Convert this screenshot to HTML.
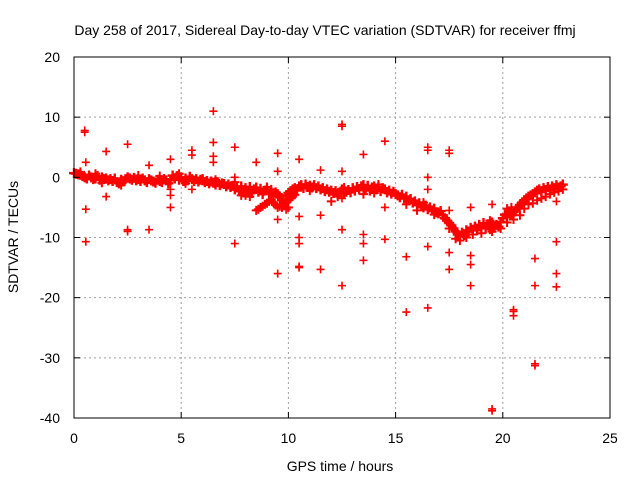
<!DOCTYPE html>
<html><head><meta charset="utf-8"><style>
body{margin:0;background:#fff;}
svg{display:block;font-family:"Liberation Sans",sans-serif;}
</style></head><body>
<svg id="chart" width="640" height="480" viewBox="0 0 640 480">
<rect width="640" height="480" fill="#fff"/>
<g id="grid"></g>
<g id="pts"></g>
<rect x="74" y="57" width="536" height="361" fill="none" stroke="#000" stroke-width="1"/>
<g id="ticks"></g>
<text x="325" y="35" font-size="14" text-anchor="middle">Day 258 of 2017, Sidereal Day-to-day VTEC variation (SDTVAR) for receiver ffmj</text>
<text x="340" y="471" font-size="14" text-anchor="middle">GPS time / hours</text>
<text x="0" y="0" font-size="14" text-anchor="middle" transform="translate(18,237) rotate(-90)">SDTVAR / TECUs</text>
</svg>
<script>
const xTicks=[0,5,10,15,20,25];
const yTicks=[20,10,0,-10,-20,-30,-40];
const trend=[[0,0.7],[0.1,0.6],[0.2,0.5],[0.3,0.4],[0.4,0.2],[0.5,0],[0.6,-0.2],[0.7,0.3],[0.8,0],[0.9,-0.3],[1,-0.2],[1.1,0.2],[1.2,-0.4],[1.3,0],[1.4,-0.3],[1.5,-0.2],[1.6,-0.5],[1.7,-0.3],[1.8,-0.6],[1.9,-0.2],[2,-0.8],[2.1,-1],[2.2,-0.4],[2.3,-0.7],[2.4,-0.3],[2.5,0],[2.6,-0.2],[2.7,-0.4],[2.8,-0.1],[2.9,-0.5],[3,-0.3],[3.1,-0.6],[3.2,-0.2],[3.3,-0.5],[3.4,-0.8],[3.5,-0.3],[3.6,-0.5],[3.7,-0.7],[3.8,-0.9],[3.9,-0.4],[4,-0.6],[4.1,-0.8],[4.2,-0.3],[4.3,-0.5],[4.4,-1],[4.5,-0.5],[4.6,0.3],[4.7,-0.2],[4.8,0.2],[4.9,-0.4],[5,0],[5.1,-0.6],[5.2,-0.2],[5.3,-0.5],[5.4,0.1],[5.5,-0.3],[5.6,-0.6],[5.7,-0.3],[5.8,-0.7],[5.9,-0.4],[6,-0.5],[6.1,-0.8],[6.2,-0.6],[6.3,-1],[6.4,-0.7],[6.5,-0.9],[6.6,-1.2],[6.7,-0.8],[6.8,-1.3],[6.9,-1],[7,-1.1],[7.1,-1.5],[7.2,-1.2],[7.3,-1.6],[7.4,-1.4],[7.5,-2],[7.6,-1.7],[7.7,-2.3],[7.8,-1.5],[7.9,-2.5],[8,-1.8],[8.1,-2.2],[8.2,-1.6],[8.3,-2.6],[8.4,-2],[8.5,-1.7],[8.6,-2.4],[8.7,-1.9],[8.8,-2.8],[8.9,-2.2],[9,-2],[9.1,-2.7],[9.2,-2.4],[9.3,-3],[9.4,-2.5],[9.5,-2.8],[9.6,-3.3],[9.7,-3.8],[9.8,-4.3],[9.9,-3],[10,-2.6],[10.1,-2.3],[10.2,-2],[10.3,-1.8],[10.4,-2.2],[10.5,-1.5],[10.6,-1.3],[10.7,-1.8],[10.8,-1.2],[10.9,-1.6],[11,-1.4],[11.1,-1.7],[11.2,-1.3],[11.3,-1.8],[11.4,-1.5],[11.5,-2],[11.6,-1.8],[11.7,-2.3],[11.8,-2],[11.9,-2.4],[12,-2.2],[12.1,-2.6],[12.2,-2.3],[12.3,-2.8],[12.4,-2.5],[12.5,-2],[12.6,-2.7],[12.7,-2.4],[12.8,-2.1],[12.9,-2.5],[13,-1.8],[13.1,-2.2],[13.2,-1.6],[13.3,-2],[13.4,-1.5],[13.5,-1.3],[13.6,-1.9],[13.7,-1.4],[13.8,-2.2],[13.9,-1.7],[14,-1.5],[14.1,-2],[14.2,-1.6],[14.3,-2.3],[14.4,-1.8],[14.5,-2],[14.6,-2.5],[14.7,-2.2],[14.8,-2.7],[14.9,-2.4],[15,-2.8],[15.1,-3],[15.2,-3.3],[15.3,-2.9],[15.4,-3.5],[15.5,-3.2],[15.6,-3.8],[15.7,-3.6],[15.8,-4.2],[15.9,-4],[16,-4.5],[16.1,-4.3],[16.2,-4.8],[16.3,-5],[16.4,-4.7],[16.5,-5.3],[16.6,-5],[16.7,-5.5],[16.8,-5.2],[16.9,-5.8],[17,-6],[17.1,-5.6],[17.2,-6.3],[17.3,-6.8],[17.4,-7.2],[17.5,-7.6],[17.6,-8],[17.7,-8.5],[17.8,-9],[17.9,-9.5],[18,-9.8],[18.1,-9.2],[18.2,-9.6],[18.3,-8.8],[18.4,-9],[18.5,-8.4],[18.6,-8.7],[18.7,-8.2],[18.8,-8.8],[18.9,-7.9],[19,-8.3],[19.1,-7.6],[19.2,-8.5],[19.3,-7.8],[19.4,-8.6],[19.5,-7.5],[19.6,-8.4],[19.7,-7.9],[19.8,-8.2],[19.9,-7.4],[20,-6.8],[20.1,-6.2],[20.2,-6.5],[20.3,-6],[20.4,-6.3],[20.5,-5.8],[20.6,-5.5],[20.7,-5],[20.8,-4.6],[20.9,-4.2],[21,-3.8],[21.1,-3.5],[21.2,-3.2],[21.3,-3],[21.4,-2.8],[21.5,-2.5],[21.6,-2.2],[21.7,-2],[21.8,-2.3],[21.9,-1.8],[22,-2.1],[22.1,-1.6],[22.2,-2],[22.3,-1.5],[22.4,-1.8],[22.5,-1.3],[22.6,-1.7],[22.7,-1.5],[22.8,-1.2]];
const band2=[[8.5,-5.5],[8.6,-5.3],[8.7,-5],[8.8,-4.8],[8.9,-4.5],[9,-4.3],[9.1,-4],[9.2,-3.7],[9.3,-4.2],[9.4,-4.6],[9.5,-5],[9.6,-4.8],[9.7,-5],[9.8,-4.7],[9.9,-4.2],[10,-3.8],[10.1,-3.5],[10.2,-3.2],[10.3,-2.9],[9.9,-5.3],[10,-5],[17.5,-8.5],[17.8,-10.2],[18,-10.5],[18.3,-10],[19,-9.3],[19.5,-9],[19.9,-8.5],[20.2,-7.5],[20.5,-7],[20.8,-6.3],[21,-5.2],[21.2,-4.5],[21.4,-4.3],[21.6,-3.8],[21.8,-3.5],[22,-3.2],[22.2,-2.8],[22.4,-2.5],[22.6,-2.3],[22.8,-2],[20.2,-5.2],[20.4,-5],[6,-0.2],[7.5,-0.8],[8,-3],[8.2,-3.2],[7.8,-3],[12,-4],[12.3,-3.2],[15.5,-4.5],[16,-5.5],[16.8,-6.2],[9.2,-2],[9,-1.6],[13.5,-2.8],[14,-2.6],[0.3,0.9],[1,0.6],[1.3,-0.9],[2.2,-1.3],[3,0.3],[4,0.2],[4.9,0.6],[5.2,-1],[6.6,-0.4],[11,-2.2],[12.6,-1.7],[14.2,-1.2],[16.3,-4.2],[18.6,-9.5],[19.4,-7.2]];
const outliers=[[0.5,7.5],[0.5,7.8],[0.55,2.5],[0.55,-5.3],[0.55,-10.7],[1.5,4.3],[1.5,-3.2],[2.5,5.5],[2.5,-9],[2.5,-8.7],[3.5,2],[3.5,-8.7],[4.5,3],[4.5,-3],[4.5,-5],[4.5,-2],[5.5,4.5],[5.5,3.7],[5.5,-2],[6.5,11],[6.5,5.8],[6.5,3.5],[6.5,2.5],[7.5,5],[7.5,-11],[7.5,0],[8.5,2.5],[9.5,4],[9.5,1],[9.5,-7],[9.5,-16],[10.5,3],[10.5,-6.5],[10.5,-10],[10.5,-11],[10.5,-14.8],[10.5,-15],[11.5,1.2],[11.5,-6.3],[11.5,-15.3],[12.5,8.5],[12.5,8.8],[12.5,1],[12.5,-3.5],[12.5,-8.7],[12.5,-18],[13.5,3.8],[13.5,-9.5],[13.5,-11],[13.5,-13.8],[14.5,6],[14.5,-5],[14.5,-10.3],[15.5,-13.2],[15.5,-22.4],[16.5,5],[16.5,4.5],[16.5,0],[16.5,-2],[16.5,-11.5],[16.5,-21.7],[17.5,4.5],[17.5,4],[17.5,-5.5],[17.5,-12.5],[17.5,-15.3],[18.5,-5],[18.5,-13],[18.5,-14.5],[18.5,-18],[19.5,-4.5],[19.5,-38.5],[19.5,-38.8],[20.5,-22.3],[20.5,-23],[20.5,-22],[21.5,-13.5],[21.5,-18],[21.5,-31],[21.5,-31.3],[22.5,-4],[22.5,-10.7],[22.5,-16],[22.5,-18.2]];

const X0=74,X1=610,Y0=418,Y1=57,xMin=0,xMax=25,yMin=-40,yMax=20;
const sx=v=>X0+(v-xMin)/(xMax-xMin)*(X1-X0);
const sy=v=>Y0-(v-yMin)/(yMax-yMin)*(Y0-Y1);
const NS='http://www.w3.org/2000/svg';
function mk(tag,attrs,parent){const e=document.createElementNS(NS,tag);for(const k in attrs)e.setAttribute(k,attrs[k]);parent.appendChild(e);return e;}
const grid=document.getElementById('grid'),ticks=document.getElementById('ticks'),pts=document.getElementById('pts');
xTicks.forEach(t=>{const x=sx(t);
 if(t>xMin&&t<xMax){const g=mk('line',{x1:x,x2:x,y1:Y1,y2:Y0,stroke:'#a0a0a0','stroke-dasharray':'2,3'},grid);}
 const a=mk('line',{x1:x,x2:x,y1:Y0,y2:Y0-6,stroke:'#000'},ticks);
 mk('line',{x1:x,x2:x,y1:Y1,y2:Y1+6,stroke:'#000'},ticks);
 const l=mk('text',{x:x,y:443,'font-size':14,'text-anchor':'middle'},ticks);l.textContent=t;
 });
yTicks.forEach(t=>{const y=sy(t);
 if(t>yMin&&t<yMax){const g=mk('line',{x1:X0,x2:X1,y1:y,y2:y,stroke:'#a0a0a0','stroke-dasharray':'2,3'},grid);}
 const a=mk('line',{x1:X0,x2:X0+6,y1:y,y2:y,stroke:'#000'},ticks);
 mk('line',{x1:X1,x2:X1-6,y1:y,y2:y,stroke:'#000'},ticks);
 const l=mk('text',{x:60,y:y+5,'font-size':14,'text-anchor':'end'},ticks);l.textContent=t;
 });
function plus(p,r,w){const x=sx(p[0]),y=sy(p[1]);
 const e=mk('path',{d:`M${x-r},${y}H${x+r}M${x},${y-r}V${y+r}`,stroke:'#ff0000','stroke-width':w,fill:'none'},pts);
 
 }
trend.forEach(p=>plus(p,5,2.4));band2.forEach(p=>plus(p,4.5,2));outliers.forEach(p=>plus(p,4,1.6));
</script>
</body></html>
